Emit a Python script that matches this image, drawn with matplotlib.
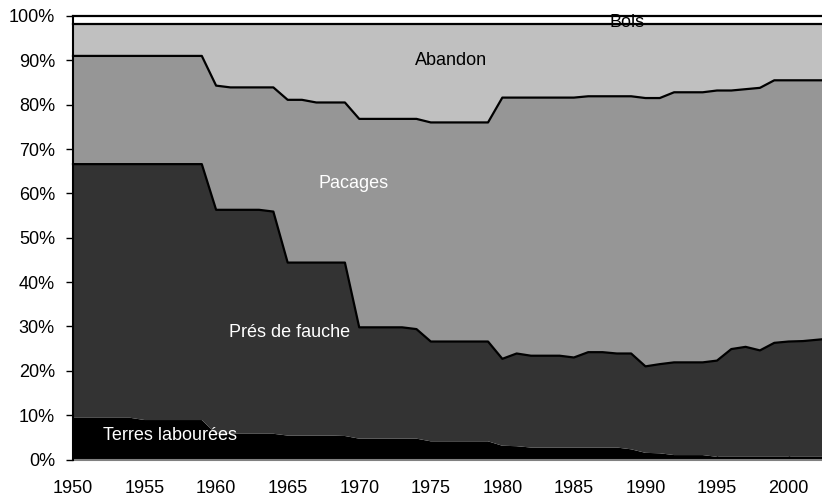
import numpy as np
import matplotlib
matplotlib.use("Agg")
import matplotlib.pyplot as plt

plt.rcParams['font.family'] = ['Liberation Sans', 'DejaVu Sans']

years = list(range(1950, 2004))

series_names = ["Terres labourées", "Prés de fauche", "Pacages", "Abandon", "Bois"]

# Land-use shares (%) per year
terres = [9.4] * 5 + [8.9] * 5 + [5.8] * 5 + [5.4] * 4 + [5.3] + [4.7] * 5 + [4.1] * 5 + \
         [3.1, 3.0] + [2.7] * 7 + [2.3] + [1.5, 1.4] + [1.0] * 3 + [0.6] * 9

pres = [57.2] * 5 + [57.7] * 5 + [50.5] * 4 + [50.1] + [39.0] * 4 + [39.1] + \
       [25.1] * 4 + [24.7] + [22.5] * 5 + \
       [19.6, 20.9, 20.7, 20.7, 20.7, 20.3, 21.5, 21.5, 21.2, 21.6] + \
       [19.5, 20.1, 20.9, 20.9, 20.9, 21.7, 24.3, 24.8, 24.0, 25.7] + \
       [26.0, 26.1, 26.4, 26.7]

pacages = [24.4] * 10 + [28.0, 27.6, 27.6, 27.6, 28.0] + [36.7, 36.7, 36.1, 36.1, 36.1] + \
          [47.0] * 4 + [47.4] + [49.4] * 5 + \
          [58.9, 57.7, 58.2, 58.2, 58.2, 58.6, 57.7, 57.7, 58.0, 58.0] + \
          [60.5, 60.0, 60.9, 60.9, 60.9, 60.9, 58.3, 58.1, 59.2, 59.2] + \
          [58.9, 58.8, 58.5, 58.2]

abandon = [7.2] * 10 + [13.9] + [14.3] * 4 + [17.1, 17.1, 17.7, 17.7, 17.7] + \
          [21.4] * 5 + [22.2] * 5 + [16.6] * 6 + [16.3] * 4 + \
          [16.7, 16.7, 15.4, 15.4, 15.4, 15.0, 15.0, 14.7, 14.4, 12.7] + [12.7] * 4

bois = [1.8] * 54

colors = ["#000000", "#333333", "#969696", "#c0c0c0", "#ffffff"]

label_pos = {
    "Terres labourées": (1956.8, 5.3, "white"),
    "Prés de fauche": (1965.1, 28.7, "white"),
    "Pacages": (1969.6, 62.3, "white"),
    "Abandon": (1976.4, 89.9, "black"),
    "Bois": (1988.7, 98.5, "black"),
}

fig = plt.figure(figsize=(8.22, 5.0), dpi=100)
ax = fig.add_axes([73 / 822, 40.5 / 500, (831.5 - 73) / 822, 443.5 / 500])

data = np.array([terres, pres, pacages, abandon, bois], dtype=float)
ax.stackplot(years, data, colors=colors, linewidth=0)

cum = np.cumsum(data, axis=0)
for i in range(1, 5):
    ax.plot(years, cum[i], color="black", linewidth=1.6, clip_on=False, zorder=3)

for name, (x, y, c) in label_pos.items():
    ax.text(x, y, name, color=c, fontsize=13, ha="center", va="center", zorder=4)

ax.set_xlim(1950, 2003)
ax.set_ylim(0, 100)

ax.set_xticks(range(1950, 2001, 5))
ax.set_xticklabels([str(y) for y in range(1950, 2001, 5)])
ax.set_yticks(range(0, 101, 10))
ax.set_yticklabels([f"{v}%" for v in range(0, 101, 10)])

ax.tick_params(axis="x", direction="in", length=3, width=1, color="black",
               labelsize=13, pad=15)
ax.tick_params(axis="y", direction="out", length=5, width=1, color="black",
               labelsize=13, pad=8)

for s in ("top", "right"):
    ax.spines[s].set_visible(False)
ax.spines["left"].set_linewidth(1.5)
ax.spines["left"].set_color("black")
ax.spines["bottom"].set_linewidth(1.5)
ax.spines["bottom"].set_color("#808080")
ax.spines["left"].set_zorder(5)

fig.savefig("out.png", dpi=100)
